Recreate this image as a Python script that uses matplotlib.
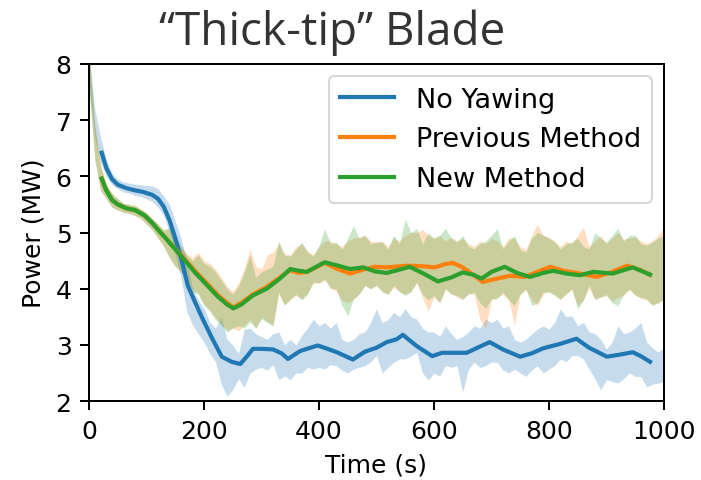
import matplotlib
matplotlib.use("Agg")
import matplotlib.pyplot as plt
import numpy as np

# ---- mean lines ----
t_blue = [22, 30, 40, 50, 65, 80, 95, 110, 120, 130, 140, 150, 160, 172, 185, 196, 213, 231, 248,
          263, 275, 285, 300, 320, 335, 346, 367, 385, 398, 415, 431, 459, 480, 500, 518, 535, 546,
          570, 597, 614, 635, 657, 680, 697, 720, 750, 770, 790, 820, 848, 870, 901, 925, 946, 960, 976]
p_blue = [6.42, 6.15, 5.95, 5.85, 5.79, 5.75, 5.72, 5.67, 5.60, 5.46, 5.22, 4.90, 4.55, 4.05, 3.75,
          3.50, 3.14, 2.79, 2.70, 2.66, 2.80, 2.93, 2.93, 2.92, 2.85, 2.75, 2.89, 2.95, 2.99, 2.93,
          2.87, 2.74, 2.88, 2.95, 3.05, 3.10, 3.18, 2.98, 2.80, 2.86, 2.86, 2.86, 2.97, 3.05, 2.92,
          2.79, 2.85, 2.94, 3.02, 3.11, 2.95, 2.79, 2.83, 2.87, 2.80, 2.70]

t_green = [22, 30, 40, 50, 65, 80, 97, 110, 120, 135, 150, 167, 185, 200, 224, 240, 251, 265, 285,
           309, 332, 350, 365, 379, 395, 410, 430, 454, 477, 497, 518, 540, 558, 580, 607, 630, 650,
           668, 683, 700, 723, 745, 767, 790, 807, 830, 854, 877, 911, 930, 946, 960, 976]
p_green = [5.96, 5.75, 5.58, 5.50, 5.43, 5.40, 5.30, 5.17, 5.05, 4.88, 4.70, 4.50, 4.28, 4.12, 3.86,
           3.72, 3.65, 3.72, 3.88, 4.00, 4.18, 4.35, 4.32, 4.30, 4.39, 4.47, 4.42, 4.35, 4.38, 4.31,
           4.28, 4.34, 4.39, 4.28, 4.13, 4.20, 4.29, 4.25, 4.18, 4.30, 4.39, 4.28, 4.21, 4.28, 4.32,
           4.27, 4.24, 4.30, 4.27, 4.33, 4.38, 4.32, 4.25]

t_orange = [22, 30, 40, 50, 65, 80, 97, 110, 120, 135, 150, 167, 185, 200, 224, 240, 251, 265, 285,
            309, 332, 350, 365, 379, 395, 410, 430, 454, 477, 497, 520, 540, 558, 580, 602, 620, 633,
            650, 668, 685, 710, 732, 758, 780, 802, 825, 854, 883, 910, 936, 960, 976]
p_orange = [5.96, 5.75, 5.58, 5.50, 5.43, 5.40, 5.30, 5.17, 5.05, 4.88, 4.71, 4.52, 4.31, 4.15, 3.89,
            3.75, 3.67, 3.75, 3.90, 4.03, 4.20, 4.33, 4.28, 4.30, 4.38, 4.46, 4.36, 4.27, 4.34, 4.39,
            4.38, 4.40, 4.41, 4.40, 4.38, 4.44, 4.46, 4.38, 4.25, 4.12, 4.18, 4.23, 4.21, 4.30, 4.39,
            4.32, 4.27, 4.21, 4.30, 4.41, 4.33, 4.25]

# ---- shaded bands (every 10 s) ----
t_band = list(range(0, 1001, 10))
blue_lo = [7.6, 6.7, 6.25, 6.0, 5.85, 5.78, 5.72, 5.70, 5.66, 5.64,
           5.6, 5.55, 5.45, 5.3, 5.0, 4.6, 4.2, 3.6, 3.35, 3.2,
           3.05, 2.85, 2.7, 2.3, 2.09, 2.2, 2.4, 2.25, 2.5, 2.57,
           2.6, 2.55, 2.65, 2.38, 2.45, 2.38, 2.5, 2.5, 2.6, 2.57,
           2.6, 2.57, 2.65, 2.63, 2.55, 2.5, 2.57, 2.6, 2.63, 2.7,
           2.81, 2.5, 2.6, 2.69, 2.75, 2.75, 2.8, 2.87, 2.5, 2.38,
           2.5, 2.44, 2.63, 2.6, 2.63, 2.16, 2.57, 2.69, 2.6, 2.63,
           2.7, 2.69, 2.55, 2.5, 2.57, 2.5, 2.44, 2.55, 2.63, 2.5,
           2.57, 2.63, 2.75, 2.7, 2.81, 2.81, 2.75, 2.57, 2.4, 2.2,
           2.38, 2.35, 2.32, 2.4, 2.5, 2.44, 2.44, 2.25, 2.3, 2.32, 2.35]
blue_hi = [8.2, 7.2, 6.7, 6.3, 6.05, 5.95, 5.9, 5.88, 5.86, 5.85,
           5.84, 5.83, 5.78, 5.65, 5.5, 5.2, 4.9, 4.5, 4.0, 3.8,
           3.65, 3.4, 3.3, 3.5, 3.1, 3.0, 2.85, 3.28, 3.3, 3.2,
           3.15, 3.1, 3.2, 3.23, 3.0, 3.1, 3.0, 3.17, 3.3, 3.46,
           3.34, 3.4, 3.3, 3.4, 3.1, 3.05, 3.1, 3.2, 3.23, 3.4,
           3.64, 3.4, 3.45, 3.58, 3.5, 3.64, 3.5, 3.46, 3.3, 3.23,
           3.23, 3.15, 3.34, 3.2, 3.1, 3.15, 3.23, 3.34, 3.3, 3.46,
           3.4, 3.46, 3.3, 3.34, 3.1, 3.05, 3.1, 3.2, 3.28, 3.34,
           3.28, 3.4, 3.64, 3.5, 3.52, 3.34, 3.4, 3.23, 3.2, 3.1,
           2.93, 3.05, 3.34, 3.2, 3.23, 3.3, 3.4, 3.05, 2.95, 2.87, 2.95]
orange_lo = [7.6, 6.3, 5.75, 5.6, 5.45, 5.4, 5.36, 5.34, 5.3, 5.25,
             5.15, 5.05, 4.9, 4.75, 4.55, 4.4, 4.3, 4.15, 3.98, 3.92,
             3.72, 3.62, 3.48, 3.38, 3.26, 3.3, 3.25, 3.35, 3.45, 3.3,
             3.5, 3.42, 3.34, 3.9, 3.72, 3.8, 3.88, 3.82, 3.92, 4.1,
             4.1, 4.15, 4.02, 3.95, 3.8, 3.75, 3.8, 3.92, 4.05, 4.0,
             4.06, 3.96, 3.9, 4.02, 3.95, 3.9, 3.95, 4.1, 3.85, 3.6,
             3.85, 3.75, 4.0, 3.92, 3.85, 3.8, 3.92, 3.9, 3.45, 3.3,
             3.8, 3.85, 3.9, 3.8, 3.35, 3.9, 3.98, 3.8, 3.7, 3.9,
             3.95, 3.9, 3.8, 3.92, 3.98, 3.7, 3.8, 4.02, 3.8, 3.85,
             3.9, 3.78, 3.85, 3.88, 3.98, 3.9, 3.82, 3.8, 3.72, 3.75, 3.8]
orange_hi = [8.2, 6.9, 6.2, 5.85, 5.7, 5.6, 5.52, 5.5, 5.48, 5.42,
             5.35, 5.25, 5.15, 5.05, 5.05, 4.95, 4.75, 4.62, 4.55, 4.65,
             4.5, 4.45, 4.35, 4.2, 4.05, 3.95, 4.1, 4.35, 4.7, 4.4,
             4.35, 4.6, 4.65, 4.8, 4.62, 4.6, 4.75, 4.8, 4.68, 4.6,
             4.75, 4.85, 4.85, 4.8, 4.75, 4.85, 4.9, 4.92, 4.95, 4.85,
             4.83, 4.85, 4.75, 4.9, 4.85, 4.95, 5.0, 5.0, 5.05, 4.95,
             4.9, 4.95, 4.85, 4.92, 4.85, 4.9, 4.8, 4.75, 4.85, 4.8,
             4.9, 4.85, 4.75, 4.9, 4.9, 4.75, 4.7, 4.95, 5.15, 4.95,
             4.92, 4.85, 4.75, 4.85, 4.8, 4.95, 5.1, 4.75, 4.85, 4.95,
             4.8, 4.9, 5.0, 4.88, 4.9, 4.92, 4.85, 4.8, 4.85, 4.95, 5.1]
green_lo = [7.6, 6.3, 5.75, 5.6, 5.45, 5.4, 5.36, 5.34, 5.3, 5.25,
            5.15, 5.05, 4.9, 4.75, 4.55, 4.4, 4.3, 4.15, 3.95, 3.9,
            3.7, 3.6, 3.45, 3.35, 3.23, 3.3, 3.34, 3.3, 3.41, 3.3,
            3.46, 3.4, 3.34, 3.94, 3.7, 3.82, 3.9, 3.8, 3.9, 4.12,
            4.1, 4.18, 4.0, 4.0, 3.7, 3.52, 3.82, 3.9, 4.06, 4.0,
            4.06, 3.94, 3.9, 4.06, 3.95, 3.88, 3.95, 4.12, 3.9, 3.8,
            3.88, 3.75, 4.0, 3.9, 3.88, 3.82, 3.9, 3.94, 3.75, 3.65,
            3.82, 3.82, 3.94, 3.8, 3.7, 3.9, 4.0, 3.7, 3.75, 3.94,
            3.94, 3.88, 3.82, 3.9, 4.0, 3.64, 3.8, 4.06, 3.82, 3.85,
            3.88, 3.75, 3.7, 3.9, 4.0, 3.88, 3.85, 3.82, 3.7, 3.75, 3.82]
green_hi = [8.2, 6.9, 6.2, 5.85, 5.7, 5.6, 5.52, 5.5, 5.48, 5.42,
            5.35, 5.25, 5.15, 5.05, 5.1, 4.95, 4.75, 4.6, 4.5, 4.6,
            4.45, 4.4, 4.3, 4.15, 4.0, 3.9, 4.05, 4.3, 4.6, 4.2,
            4.3, 4.35, 4.4, 4.85, 4.6, 4.58, 4.7, 4.83, 4.65, 4.58,
            4.77, 5.07, 4.8, 4.83, 4.7, 4.9, 5.12, 4.9, 4.95, 4.8,
            4.83, 4.83, 4.7, 4.95, 4.8, 5.24, 5.0, 5.07, 4.8, 5.0,
            4.9, 4.95, 5.07, 4.9, 4.83, 4.95, 4.75, 4.71, 4.8, 4.85,
            4.95, 5.07, 4.71, 4.85, 4.95, 4.7, 4.65, 4.9, 5.0, 4.95,
            4.9, 4.83, 4.71, 4.8, 4.83, 4.9, 4.75, 4.71, 5.0, 4.9,
            4.83, 4.95, 5.07, 4.85, 4.95, 4.95, 4.8, 4.77, 4.83, 4.9, 4.95]

labels = ["No Yawing", "Previous Method", "New Method"]
x_ticks = [0, 200, 400, 600, 800, 1000]
y_ticks = [2, 3, 4, 5, 6, 7, 8]

C_BLUE, C_ORANGE, C_GREEN = "#1f77b4", "#ff7f0e", "#2ca02c"
FS = 18
S = 1.8
LW = 3.0

plt.rcParams["font.family"] = ["DejaVu Sans"]
fig = plt.figure(figsize=(7.01, 4.81), dpi=100)
ax = fig.add_axes([0.127, 0.164, 0.820, 0.701])

ax.fill_between(t_band, blue_lo, blue_hi, color=C_BLUE, alpha=0.25, linewidth=0)
ax.fill_between(t_band, orange_lo, orange_hi, color=C_ORANGE, alpha=0.25, linewidth=0)
ax.fill_between(t_band, green_lo, green_hi, color=C_GREEN, alpha=0.25, linewidth=0)

ax.plot(t_blue, p_blue, color=C_BLUE, lw=LW, label=labels[0], solid_joinstyle="round")
ax.plot(t_orange, p_orange, color=C_ORANGE, lw=LW, label=labels[1], solid_joinstyle="round")
ax.plot(t_green, p_green, color=C_GREEN, lw=LW, label=labels[2], solid_joinstyle="round")

ax.set_xlim(0, 1000)
ax.set_ylim(2, 8)
ax.set_xticks(x_ticks)
ax.set_yticks(y_ticks)
ax.tick_params(labelsize=FS, length=3.5 * S, width=0.8 * S, pad=3.5 * S)
for sp in ax.spines.values():
    sp.set_linewidth(0.8 * S)
ax.set_xlabel("Time (s)", fontsize=FS, labelpad=4 * S)
ax.set_ylabel("Power (MW)", fontsize=FS, labelpad=4 * S)

leg = ax.legend(loc="upper right", fontsize=19.5, framealpha=0.8, borderaxespad=0.45,
                handlelength=2.0)
leg.get_frame().set_linewidth(0.8 * S)

fig.text(0.474, 0.932, "\u201cThick-tip\u201d Blade", ha="center", va="center",
         fontsize=33, color="#333333", family=["Open Sans", "DejaVu Sans"])

fig.savefig("out.png", dpi=100)
